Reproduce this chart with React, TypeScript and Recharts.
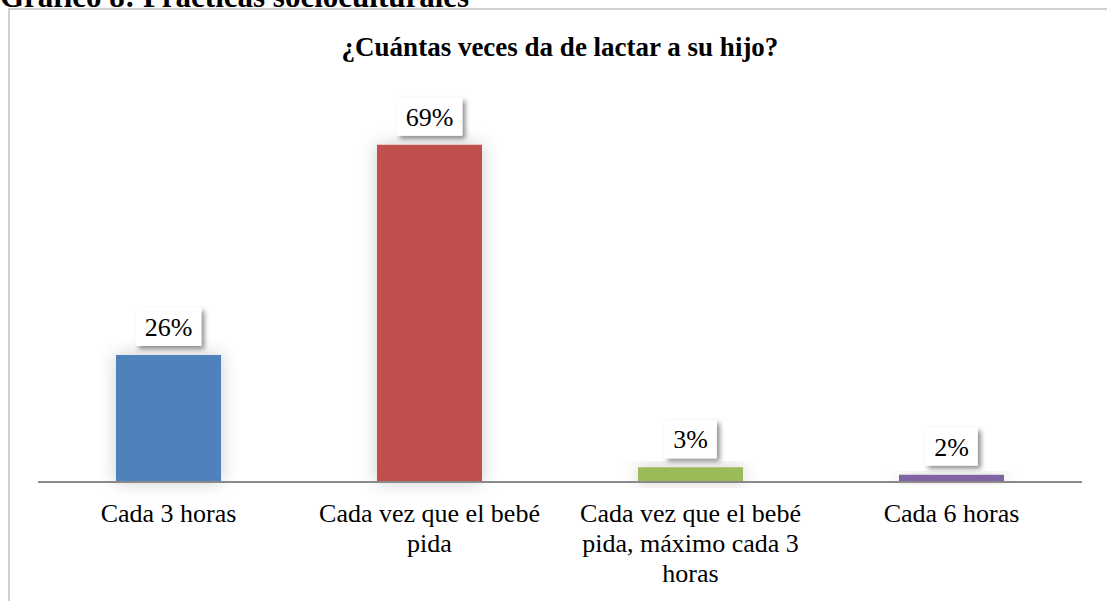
import React from "react";
import { BarChart, Bar, XAxis, YAxis, Cell, LabelList } from "recharts";

const categories = [
  "Cada 3 horas",
  "Cada vez que el bebé pida",
  "Cada vez que el bebé pida, máximo cada 3 horas",
  "Cada 6 horas",
];
const tickLines = [
  ["Cada 3 horas"],
  ["Cada vez que el bebé", "pida"],
  ["Cada vez que el bebé", "pida, máximo cada 3", "horas"],
  ["Cada 6 horas"],
];
const values = [26, 69, 3, 1.5];
const valueLabels = ["26%", "69%", "3%", "2%"];
const colors = ["#4F81BD", "#C0504D", "#9BBB59", "#8064A2"];
const title = "¿Cuántas veces da de lactar a su hijo?";
const caption = "Gráfico 8: Prácticas socioculturales";

const data = categories.map((c, i) => ({ name: c, value: values[i], label: valueLabels[i], idx: i }));

const FONT = "'Liberation Serif', 'Times New Roman', serif";

const textWidth = (s: string, fs: number) => {
  let w = 0;
  for (const ch of s) w += ch === "%" ? 0.833 : 0.5;
  return w * fs;
};

const ValueLabel = (props: any) => {
  const { x, y, width, index } = props;
  const txt = valueLabels[index];
  const fs = 26;
  const bw = textWidth(txt, fs) + 18;
  const bh = 38;
  const cx = x + width / 2;
  const bottom = y - 9;
  return (
    <g>
      <rect x={cx - bw / 2} y={bottom - bh} width={bw} height={bh} fill="#ffffff" filter="url(#lblShadow)" />
      <text x={cx} y={bottom - 10} textAnchor="middle" fontFamily={FONT} fontSize={fs} fill="#000">
        {txt}
      </text>
    </g>
  );
};

const Tick = (props: any) => {
  const { x, index } = props;
  const lines = tickLines[index] || [];
  return (
    <g>
      {lines.map((l, i) => (
        <text key={i} x={x} y={522 + i * 30} textAnchor="middle" fontFamily={FONT} fontSize={26} fill="#000">
          {l}
        </text>
      ))}
    </g>
  );
};

export default function App() {
  return (
    <div style={{ position: "fixed", left: 0, top: 0, width: 1107, height: 601, overflow: "hidden", background: "#fff" }}>
      <div
        style={{
          position: "absolute",
          left: 0,
          top: -19,
          fontFamily: FONT,
          fontWeight: "bold",
          fontSize: 31,
          lineHeight: "31px",
          whiteSpace: "nowrap",
          color: "#000",
        }}
      >
        {caption}
      </div>
      <div
        style={{
          position: "absolute",
          left: 8,
          top: 8,
          width: 1200,
          height: 700,
          borderLeft: "2px solid #cfcfcf",
          borderTop: "2px solid #cfcfcf",
        }}
      />
      <div
        style={{
          position: "absolute",
          left: 0,
          top: 34,
          width: 1120,
          textAlign: "center",
          fontFamily: FONT,
          fontWeight: "bold",
          fontSize: 27,
          lineHeight: "26px",
          color: "#000",
        }}
      >
        {title}
      </div>
      <div style={{ position: "absolute", left: 0, top: 0 }}>
        <BarChart width={1107} height={601} data={data} margin={{ top: 91, right: 25, bottom: 19, left: 38 }}>
          <defs>
            <filter id="barGlow" x="-40%" y="-40%" width="180%" height="180%">
              <feDropShadow dx="0" dy="0" stdDeviation="9" floodColor="#000" floodOpacity="0.2" />
            </filter>
            <filter id="lblShadow" x="-40%" y="-40%" width="180%" height="180%">
              <feDropShadow dx="3" dy="3" stdDeviation="2.5" floodColor="#000" floodOpacity="0.45" />
            </filter>
          </defs>
          <XAxis
            dataKey="name"
            height={100}
            interval={0}
            tickLine={false}
            axisLine={{ stroke: "#898989", strokeWidth: 2 }}
            tick={<Tick />}
          />
          <YAxis hide domain={[0, 80]} />
          <Bar dataKey="value" barSize={105} isAnimationActive={false} filter="url(#barGlow)">
            {data.map((d, i) => (
              <Cell key={i} fill={colors[i]} />
            ))}
            <LabelList dataKey="value" content={<ValueLabel />} />
          </Bar>
        </BarChart>
      </div>
    </div>
  );
}
